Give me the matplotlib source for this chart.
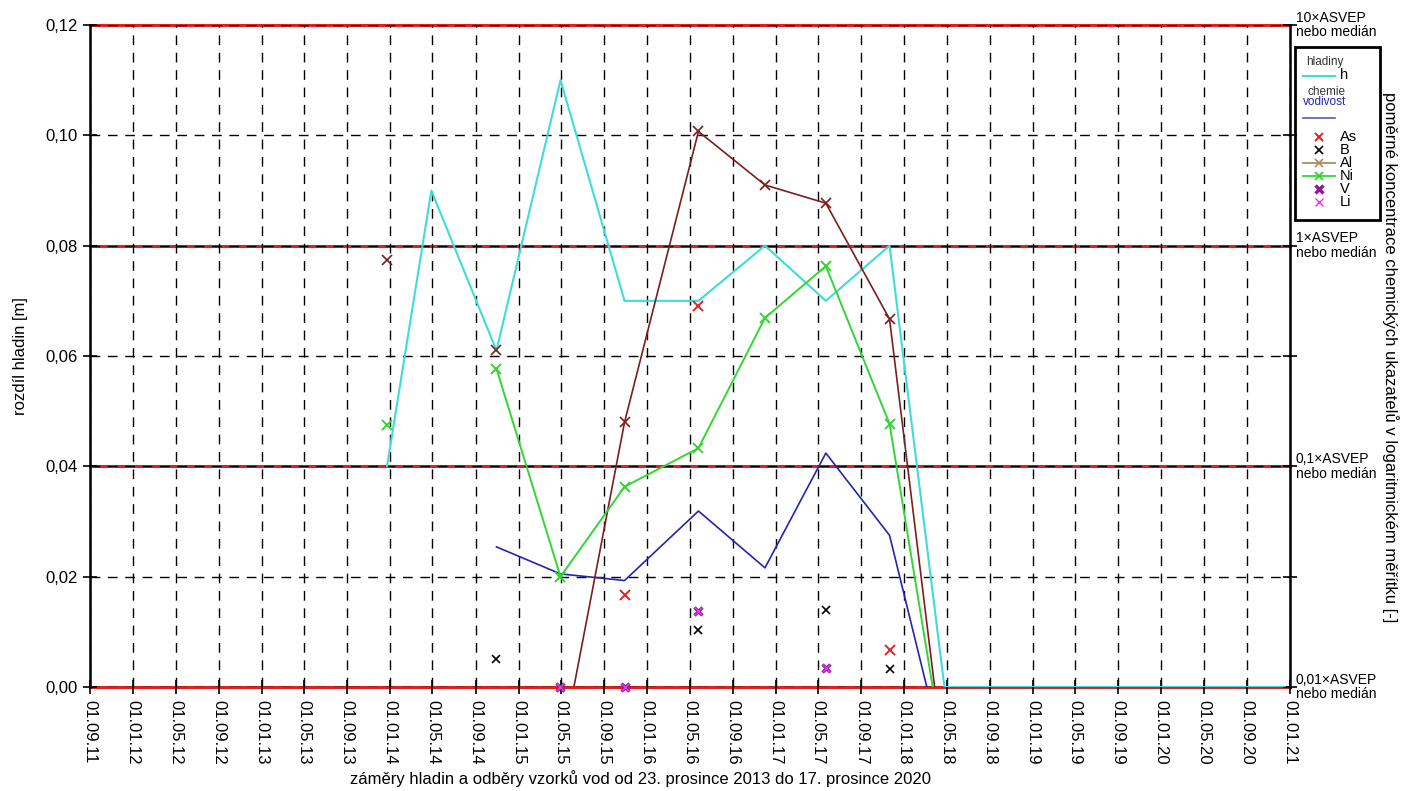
import matplotlib
matplotlib.use('Agg')
import matplotlib.pyplot as plt
import matplotlib.dates as mdates
from matplotlib.lines import Line2D
from matplotlib.patches import Rectangle
import numpy as np
import pandas as pd

plt.rcParams['font.family'] = ['Liberation Sans', 'DejaVu Sans']

nan = np.nan

# zamery hladin
h_dates = ['2013-12-23', '2014-04-28', '2014-10-30', '2015-04-30', '2015-10-29',
           '2016-05-26', '2016-12-01', '2017-05-23', '2017-11-20', '2018-04-25',
           '2020-12-17']
h_values = [0.040, 0.090, 0.061, 0.110, 0.070, 0.070, 0.080, 0.070, 0.080, 0.000, 0.000]

# odbery vzorku (hodnoty prepoctene na osu vlevo)
chem_dates = h_dates[:10]
vodivost = [nan, nan, 0.0254, 0.0205, 0.0193, 0.0319, 0.0216, 0.0424, 0.0275, -0.013]
As = [nan, nan, nan, nan, 0.0167, 0.0690, nan, nan, 0.0067, nan]
B = [nan, nan, 0.0051, nan, nan, 0.0103, nan, 0.0140, 0.0033, nan]
Al = [0.0774, nan, 0.0610, -0.0127, 0.0480, 0.1007, 0.0910, 0.0877, 0.0667, -0.0145]
Ni = [0.0475, nan, 0.0577, 0.0200, 0.0363, 0.0433, 0.0669, 0.0763, 0.0477, -0.013]
V = [nan, nan, nan, 0.0, 0.0, 0.0138, nan, 0.0034, nan, nan]
Li = [nan, nan, nan, 0.0, 0.0, 0.0138, nan, 0.0034, nan, nan]
al_line_start = 3

asvep_levels = [0.0, 0.04, 0.08, 0.12]
asvep_labels = ['0,01×ASVEP\nnebo medián', '0,1×ASVEP\nnebo medián',
                '1×ASVEP\nnebo medián', '10×ASVEP\nnebo medián']

hd = pd.to_datetime(h_dates)
cd = pd.to_datetime(chem_dates)

W, H = 1402, 791
fig = plt.figure(figsize=(W / 100, H / 100), dpi=100)
ax = fig.add_axes([90 / W, 1 - 687 / H, 1200 / W, 662 / H])

c_h = '#3edcdc'
c_vod = '#2424b0'
c_al = '#7a1e1e'
c_ni = '#33d633'
c_as = '#e02424'
c_v = '#8a1a9a'
c_li = '#e040e0'

for lev in asvep_levels:
    ax.axhline(lev, color='#e02020', lw=2.2, zorder=0.4, clip_on=False)

ax.plot(hd, h_values, color=c_h, lw=1.5, zorder=3)
ax.plot(cd, vodivost, color=c_vod, lw=1.2, zorder=3)
ax.plot(cd[al_line_start:], Al[al_line_start:], color=c_al, lw=1.2, zorder=3)
ax.plot(cd, Al, ls='none', marker='x', color=c_al, ms=7, mew=1.2, zorder=3)
ax.plot(cd, Ni, color=c_ni, lw=1.4, marker='x', ms=7, mew=1.4, zorder=3)
ax.plot(cd, As, ls='none', marker='x', color=c_as, ms=7, mew=1.4, zorder=4, clip_on=False)
ax.plot(cd, B, ls='none', marker='x', color='black', ms=6, mew=1.2, zorder=4, clip_on=False)
ax.plot(cd, V, ls='none', marker='x', color=c_v, ms=6, mew=2.4, zorder=4, clip_on=False)
ax.plot(cd, Li, ls='none', marker='x', color=c_li, ms=6, mew=1.0, zorder=5, clip_on=False)

ax.set_xlim(pd.Timestamp('2011-09-01'), pd.Timestamp('2021-01-01'))
ax.set_ylim(0, 0.12)
ax.set_yticks(np.arange(0, 0.121, 0.02))
ax.yaxis.set_major_formatter(lambda v, _: f'{v:.2f}'.replace('.', ','))
ax.xaxis.set_major_locator(mdates.MonthLocator(bymonth=[1, 5, 9], bymonthday=1))
ax.xaxis.set_major_formatter(mdates.DateFormatter('%d.%m.%y'))

ax.set_axisbelow(True)
ax.grid(True, color='black', lw=1.0, ls=(0, (7, 5.5)))
ax.tick_params(axis='both', direction='inout', length=10, width=1.2, labelsize=12)
ax.tick_params(axis='y', right=True, pad=4)
ax.tick_params(axis='x', pad=4)
for lbl in ax.get_xticklabels():
    lbl.set_rotation(270)
for s in ['top', 'bottom']:
    ax.spines[s].set_visible(False)
for s in ['left', 'right']:
    ax.spines[s].set_linewidth(1.8)

ax.set_ylabel('rozdíl hladin [m]', fontsize=12, labelpad=10)
ax.yaxis.set_label_coords(-62 / 1200, 0.5)
fig.text(641 / W, 1 - 779 / H,
         'záměry hladin a odběry vzorků vod od 23. prosince 2013 do 17. prosince 2020',
         ha='center', va='center', fontsize=12)
fig.text(1390 / W, 1 - 357 / H,
         'poměrné koncentrace chemických ukazatelů v logaritmickém měřítku [-]',
         rotation=270, ha='center', va='center', fontsize=12)

for lev, txt in zip(asvep_levels, asvep_labels):
    ax.annotate(txt, xy=(1, lev), xycoords=('axes fraction', 'data'),
                xytext=(4, 0), textcoords='offset points',
                ha='left', va='center', fontsize=10, linespacing=1.05)


# legenda
def fx(x):
    return x / W


def fy(y):
    return 1 - y / H


fig.add_artist(Rectangle((fx(1295), fy(220)), fx(1380) - fx(1295), fy(47) - fy(220),
                         transform=fig.transFigure, fill=False, ec='black', lw=2))
fig.text(fx(1306), fy(62), 'hladiny', fontsize=8.5, color='#333333', va='center')
fig.add_artist(Line2D([fx(1303), fx(1335)], [fy(76), fy(76)], color=c_h, lw=1.5,
                      transform=fig.transFigure))
fig.text(fx(1340), fy(75), 'h', fontsize=10.5, va='center')
fig.text(fx(1307), fy(92), 'chemie', fontsize=8.5, color='#333333', va='center')
fig.text(fx(1303), fy(102), 'vodivost', fontsize=8.5, color=c_vod, va='center')
fig.add_artist(Line2D([fx(1303), fx(1335)], [fy(118), fy(118)], color='#5a5ab0', lw=1.2,
                      transform=fig.transFigure))
leg_items = [('As', c_as, False, 1.4), ('B', 'black', False, 1.2), ('Al', '#b08a60', True, 1.2),
             ('Ni', c_ni, True, 1.4), ('V', c_v, False, 2.4), ('Li', c_li, False, 1.0)]
for i, (name, col, with_line, mw) in enumerate(leg_items):
    y = 137 + i * 13
    if with_line:
        fig.add_artist(Line2D([fx(1303), fx(1335)], [fy(y), fy(y)], color=col, lw=1.3,
                              transform=fig.transFigure))
    fig.add_artist(Line2D([fx(1319)], [fy(y)], color=col, marker='x', ms=6, mew=mw,
                          ls='none', transform=fig.transFigure))
    fig.text(fx(1340), fy(y), name, fontsize=10.5, va='center')

fig.savefig('out.png', dpi=100)
